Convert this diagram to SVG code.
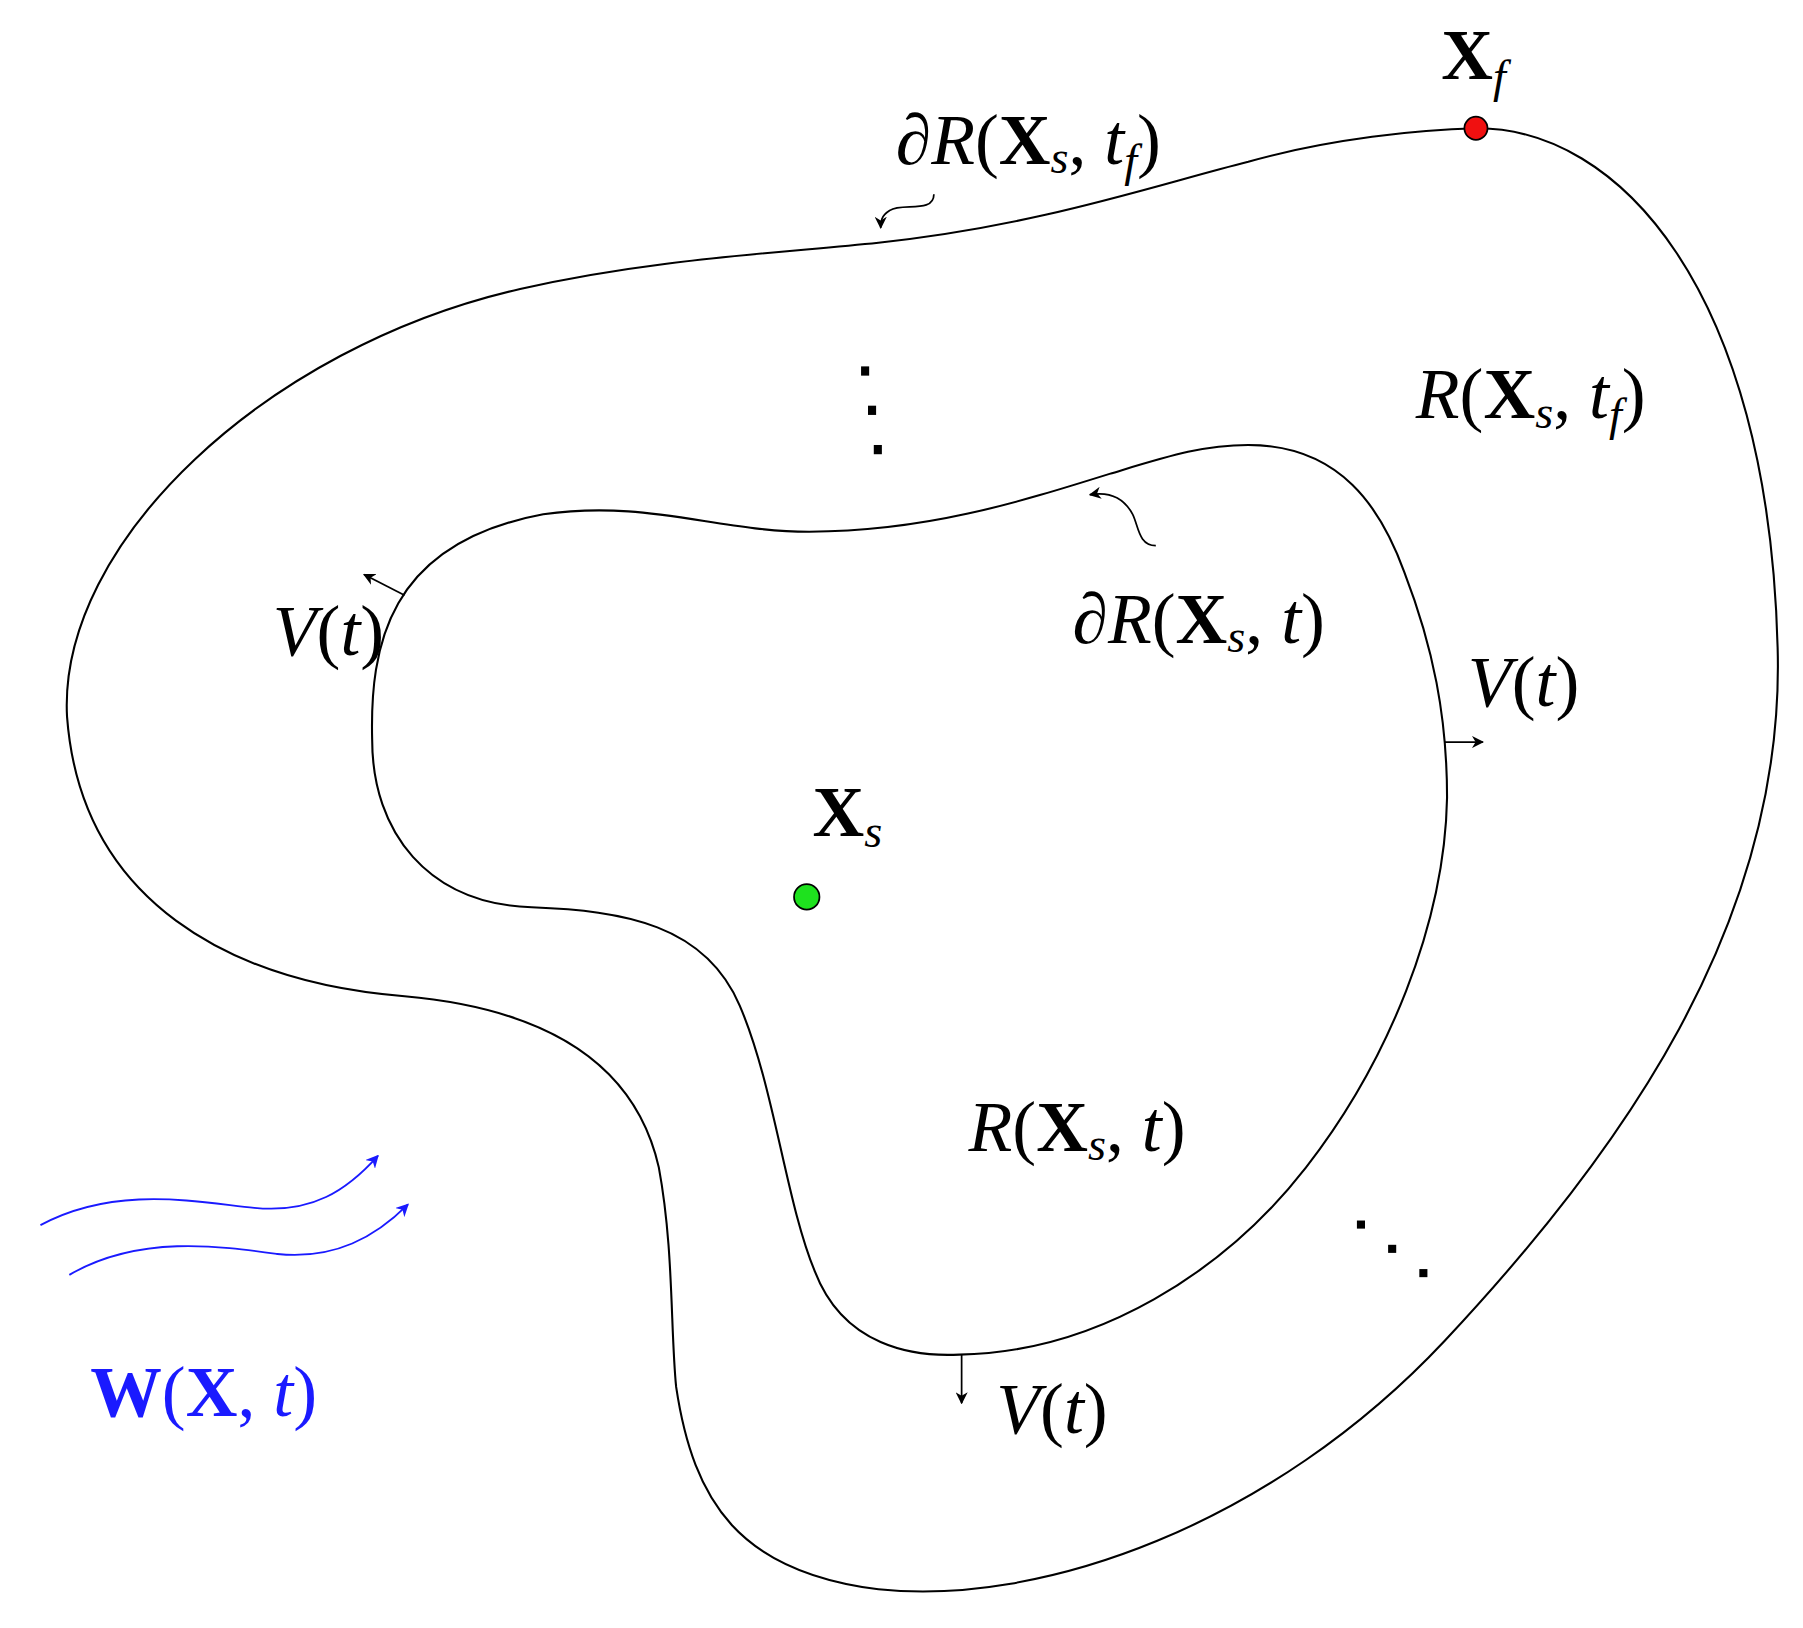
<svg xmlns="http://www.w3.org/2000/svg" width="1803" height="1628" viewBox="0 0 1803 1628">
<style>
.c{fill:none;stroke:#000;stroke-width:1.8}
.a{fill:none;stroke:#000;stroke-width:1.5}
.b{fill:none;stroke:#1a1aff;stroke-width:1.6}
text{font-family:"Liberation Serif",serif;font-style:italic;font-size:62px}
.x{font-style:normal;font-weight:bold}
.u{font-style:normal}
.s{font-size:40px}
</style>
<defs>
<marker id="m" viewBox="0 0 10 10" refX="9" refY="5" markerWidth="7" markerHeight="7" orient="auto"><path d="M0,0 L10,5 L0,10 L3,5 Z" fill="#000"/></marker>
<marker id="mb" viewBox="0 0 10 10" refX="9" refY="5" markerWidth="7" markerHeight="7" orient="auto"><path d="M0,0 L10,5 L0,10 L3,5 Z" fill="#1a1aff"/></marker>
</defs>
<rect width="1803" height="1628" fill="#fff"/>
<g transform="scale(1.1558)">
<g id="outer"><path class="c" d="M1277 111 C1400 110,1530 250,1538 560 C1545 800,1400 1000,1250 1160 C1100 1320,900 1390,760 1375 C640 1360,600 1300,585 1200 C580 1150,583 1080,570 1010 C545 900,440 870,350 862 C200 850,70 780,58 620 C50 470,230 300,450 250 C560 225,660 220,760 210 C900 195,1000 160,1080 140 C1150 120,1230 112,1277 111 Z"/></g>
<g id="inner"><path class="c" d="M1080 385 C1160 385,1195 440,1215 495 C1240 560,1252 620,1252 690 C1250 800,1200 920,1130 1010 C1060 1100,950 1170,830 1172 C790 1174,730 1165,705 1100 C680 1040,670 940,640 870 C610 800,540 788,460 785 C370 782,322 720,322 640 C320 560,335 470,470 445 C560 432,620 460,700 460 C800 460,880 435,960 410 C1010 395,1040 385,1080 385 Z"/></g>
<g id="connectors">
<path class="a" marker-end="url(#m)" d="M350 515 L315 497"/>
<path class="a" marker-end="url(#m)" d="M1250 642 L1283 642"/>
<path class="a" marker-end="url(#m)" d="M832 1172 L832 1214"/>
<path class="a" marker-end="url(#m)" d="M808 168 C808 185,780 175,770 182 C762 187,762 192,762 197"/>
<path class="a" marker-end="url(#m)" d="M1000 472 C985 472,985 455,980 445 C972 430,960 425,943 428"/>
<path class="b" marker-end="url(#mb)" d="M35 1060 C100 1025,170 1040,220 1045 C270 1050,300 1030,327 1000"/>
<path class="b" marker-end="url(#mb)" d="M60 1103 C120 1068,190 1078,240 1085 C290 1090,325 1070,353 1042"/>
</g>
<g id="dots" fill="#000">
<rect x="745" y="317" width="7" height="8"/><rect x="751" y="351" width="7" height="8"/><rect x="756" y="385" width="7" height="8"/>
<rect x="1174" y="1056" width="7" height="7"/><rect x="1201" y="1077" width="7" height="7"/><rect x="1228" y="1098" width="7" height="7"/>
</g>
<g id="xs"><circle cx="698" cy="776" r="11" fill="#1ee21e" stroke="#000" stroke-width="1.5"/><text x="703" y="723"><tspan class="x">X</tspan><tspan class="s" dy="10">s</tspan></text></g>
<g id="xf"><circle cx="1277" cy="111" r="10" fill="#f01010" stroke="#000" stroke-width="1.5"/><text x="1247" y="68"><tspan class="x">X</tspan><tspan class="s" dy="12">f</tspan></text></g>
<g id="labels">
<text x="775" y="142">∂R<tspan class="u">(</tspan><tspan class="x">X</tspan><tspan class="s" dy="8">s</tspan><tspan class="u" dy="-8">,</tspan> t<tspan class="s" dy="10">f</tspan><tspan class="u" dy="-10">)</tspan></text>
<text x="1225" y="362">R<tspan class="u">(</tspan><tspan class="x">X</tspan><tspan class="s" dy="8">s</tspan><tspan class="u" dy="-8">,</tspan> t<tspan class="s" dy="10">f</tspan><tspan class="u" dy="-10">)</tspan></text>
<text x="928" y="556">∂R<tspan class="u">(</tspan><tspan class="x">X</tspan><tspan class="s" dy="8">s</tspan><tspan class="u" dy="-8">,</tspan> t<tspan class="u">)</tspan></text>
<text x="838" y="996">R<tspan class="u">(</tspan><tspan class="x">X</tspan><tspan class="s" dy="8">s</tspan><tspan class="u" dy="-8">,</tspan> t<tspan class="u">)</tspan></text>
<text x="236" y="567" font-size="48">V<tspan class="u">(</tspan>t<tspan class="u">)</tspan></text>
<text x="1270" y="611" font-size="48">V<tspan class="u">(</tspan>t<tspan class="u">)</tspan></text>
<text x="862" y="1240" font-size="48">V<tspan class="u">(</tspan>t<tspan class="u">)</tspan></text>
<text x="78" y="1225" fill="#1a1aff"><tspan class="x">W</tspan><tspan class="u">(</tspan><tspan class="x">X</tspan><tspan class="u">,</tspan> t<tspan class="u">)</tspan></text>
</g>
</g>
</svg>
